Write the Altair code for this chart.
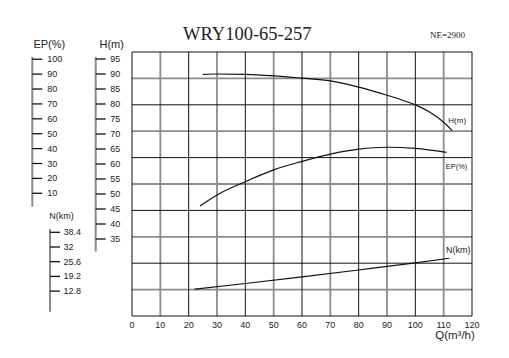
import altair as alt
import pandas as pd

# ---------------- data ----------------
title_text = "WRY100-65-257"
speed_text = "NE=2900"
q_title = "Q(m³/h)"

q_black = [0, 20, 40, 60, 80, 100, 120]
q_gray = [10, 30, 50, 70, 90, 110]
rows_black = [0, 2, 4, 6, 8, 10]
rows_gray = [1, 3, 5, 7, 9]
q_ticks = list(range(0, 121, 10))

ep_ticks = [100, 90, 80, 70, 60, 50, 40, 30, 20, 10]
h_ticks = [95, 90, 85, 80, 75, 70, 65, 60, 55, 50, 45, 40, 35]
n_ticks = [38.4, 32, 25.6, 19.2, 12.8]

h_q = [25, 30, 40, 50, 60, 70, 80, 90, 95, 100, 105, 110, 113]
h_val = [89.9, 90.0, 89.9, 89.4, 88.6, 87.7, 85.6, 82.9, 81.4, 79.7, 77.3, 73.9, 71.1]

ep_q = [24, 30, 40, 50, 60, 70, 80, 90, 100, 111]
ep_val = [1.5, 8.9, 17.8, 25.7, 31.4, 36.3, 39.6, 40.9, 40.2, 37.5]

n_q = [22, 40, 60, 80, 100, 112]
n_val = [13.6, 16.1, 19.0, 22.0, 25.1, 27.1]

FONT = "Liberation Sans"
SERIF = "Liberation Serif"
TXT = "#222222"
BLACK = "#111111"
GRAY = "#8c8c8c"
AXGRAY = "#8a8a8a"

W, H = 340, 264

xs = alt.Scale(domain=[0, 120], nice=False, zero=False)
row_scale = alt.Scale(domain=[0, 10], nice=False, zero=False)
h_scale = alt.Scale(domain=[30.8, 95.7], range=[199.6, 4.9], nice=False, zero=False)
ep_scale = alt.Scale(domain=[1.0, 101.5], range=[154.7, 5.0], nice=False, zero=False)
n_scale = alt.Scale(domain=[3.83, 39.84], range=[259.7, 177.0], nice=False, zero=False)


def vrules(qs, color, w):
    df = pd.DataFrame({"q": qs, "r0": [0] * len(qs), "r1": [10] * len(qs)})
    return alt.Chart(df).mark_rule(color=color, strokeWidth=w).encode(
        x=alt.X("q:Q", scale=xs, axis=None),
        y=alt.Y("r0:Q", scale=row_scale, axis=None),
        y2="r1:Q")


def hrules(rows, color, w):
    df = pd.DataFrame({"r": rows, "q0": [0] * len(rows), "q1": [120] * len(rows)})
    return alt.Chart(df).mark_rule(color=color, strokeWidth=w).encode(
        x=alt.X("q0:Q", scale=xs, axis=None),
        x2="q1:Q",
        y=alt.Y("r:Q", scale=row_scale, axis=None))


def curve(qs, vals, label, scale, dx, dy, fsize):
    df = pd.DataFrame({"q": qs, "v": vals})
    line = alt.Chart(df).mark_line(color=BLACK, strokeWidth=1.2,
                                   interpolate="monotone").encode(
        x=alt.X("q:Q", scale=xs, axis=None),
        y=alt.Y("v:Q", scale=scale, axis=None))
    ldf = pd.DataFrame({"q": [qs[-1]], "v": [vals[-1]], "t": [label]})
    text = alt.Chart(ldf).mark_text(font=FONT, fontSize=fsize, color=TXT,
                                    align="center", baseline="middle",
                                    dx=dx, dy=dy).encode(
        x=alt.X("q:Q", scale=xs, axis=None),
        y=alt.Y("v:Q", scale=scale, axis=None),
        text="t:N")
    return [line, text]


def side_axis(ticks, scale, line_x, label_dx, title, title_dx, title_dy, title_size):
    lo, hi = scale.domain
    dom = pd.DataFrame({"lo": [lo], "hi": [hi]})
    line = alt.Chart(dom).mark_rule(color=AXGRAY, strokeWidth=2).encode(
        x=alt.value(line_x),
        y=alt.Y("lo:Q", scale=scale, axis=None), y2="hi:Q")
    tdf = pd.DataFrame({"v": ticks, "t": [f"{v:g}" for v in ticks]})
    tick = alt.Chart(tdf).mark_rule(color=BLACK, strokeWidth=1.3).encode(
        x=alt.value(line_x), x2=alt.value(line_x + 10),
        y=alt.Y("v:Q", scale=scale, axis=None))
    lab = alt.Chart(tdf).mark_text(font=FONT, fontSize=9, color=TXT,
                                   align="left", baseline="middle").encode(
        x=alt.value(line_x + label_dx),
        y=alt.Y("v:Q", scale=scale, axis=None), text="t:N")
    ttl = alt.Chart(pd.DataFrame({"v": [hi], "t": [title]})).mark_text(
        font=FONT, fontSize=title_size, color=TXT, align="center",
        baseline="middle", dy=title_dy).encode(
        x=alt.value(line_x + title_dx),
        y=alt.Y("v:Q", scale=scale, axis=None), text="t:N")
    return [line, tick, lab, ttl]


# x-axis labels and title
xl_df = pd.DataFrame({"q": q_ticks, "r": [0] * len(q_ticks),
                      "t": [str(v) for v in q_ticks]})
x_labels = alt.Chart(xl_df).mark_text(font=FONT, fontSize=9, color=TXT,
                                      align="center", baseline="middle", dy=9).encode(
    x=alt.X("q:Q", scale=xs, axis=None),
    y=alt.Y("r:Q", scale=row_scale, axis=None), text="t:N")

xt_df = pd.DataFrame({"q": [120], "r": [0], "t": [q_title]})
x_title = alt.Chart(xt_df).mark_text(font=FONT, fontSize=11.5, color=TXT,
                                     align="center", baseline="middle",
                                     dx=-17, dy=20).encode(
    x=alt.X("q:Q", scale=xs, axis=None),
    y=alt.Y("r:Q", scale=row_scale, axis=None), text="t:N")

ne_df = pd.DataFrame({"q": [120], "r": [10], "t": [speed_text]})
ne = alt.Chart(ne_df).mark_text(font=SERIF, fontSize=9, color=TXT, align="right",
                                baseline="alphabetic", dx=-7, dy=-14.5).encode(
    x=alt.X("q:Q", scale=xs, axis=None),
    y=alt.Y("r:Q", scale=row_scale, axis=None), text="t:N")

tt_df = pd.DataFrame({"q": [18], "r": [10], "t": [title_text]})
main_title = alt.Chart(tt_df).mark_text(font=SERIF, fontSize=18.5, color=TXT,
                                        align="left", baseline="alphabetic",
                                        dy=-12).encode(
    x=alt.X("q:Q", scale=xs, axis=None),
    y=alt.Y("r:Q", scale=row_scale, axis=None), text="t:N")

layers = [
    vrules(q_gray, GRAY, 1.8),
    hrules(rows_gray, GRAY, 1.8),
    vrules(q_black, BLACK, 1.0),
    hrules(rows_black, BLACK, 1.0),
]
layers += curve(h_q, h_val, "H(m)", h_scale, 5, -9.5, 8)
layers += curve(ep_q, ep_val, "EP(%)", ep_scale, 10, 14.4, 7.5)
layers += curve(n_q, n_val, "N(km)", n_scale, 9, -8.3, 9)
layers += side_axis(ep_ticks, ep_scale, -99.7, 15, "EP(%)", 17, -12, 11)
layers += side_axis(h_ticks, h_scale, -36.3, 14.5, "H(m)", 16, -12, 11)
layers += side_axis(n_ticks, n_scale, -82, 13.5, "N(km)", 11.5, -13, 9)
layers += [x_labels, x_title, ne, main_title]

chart = alt.layer(*layers).resolve_scale(y="independent").properties(
    width=W, height=H,
    autosize=alt.AutoSizeParams(type="none"),
    padding={"left": 124, "top": 44, "right": 29, "bottom": 34},
).configure_view(stroke=None)

chart.save("out.html", embed_options={"renderer": "svg", "actions": False})
